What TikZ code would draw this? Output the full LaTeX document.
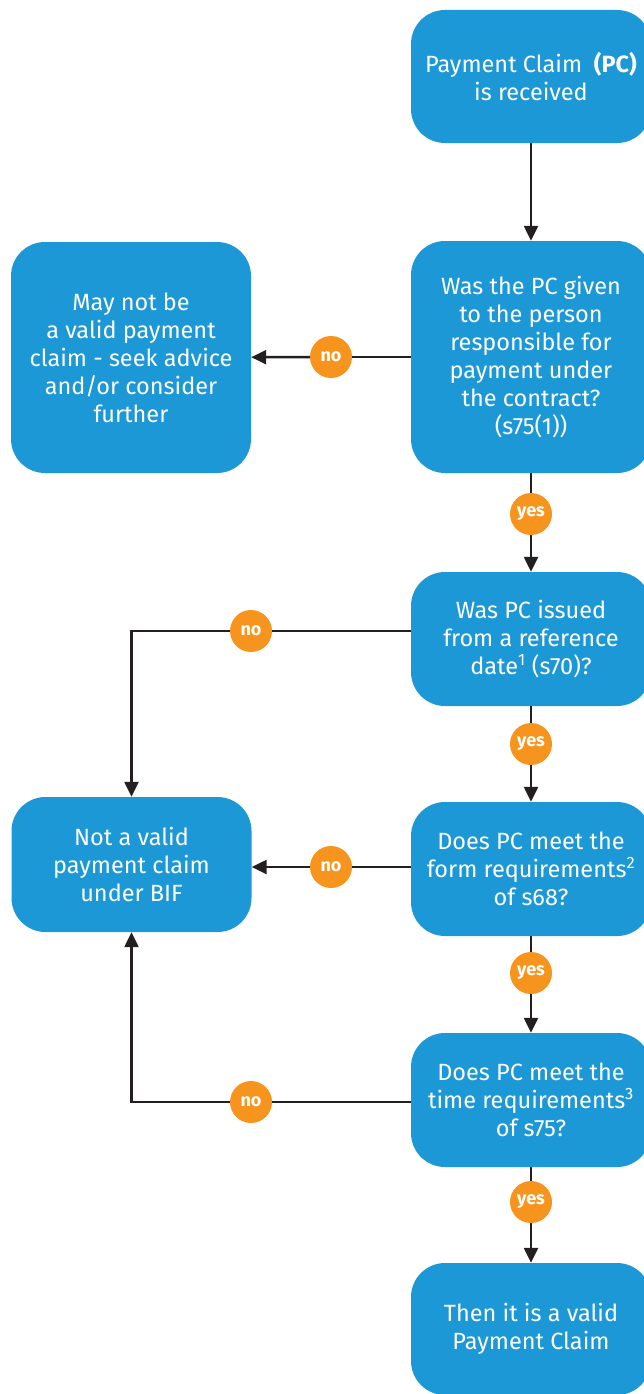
\documentclass[tikz,border=0pt]{standalone}
\usepackage{fontspec}
\setmainfont{Fira Sans}
\usepackage{tikz}
\usetikzlibrary{arrows.meta}

\definecolor{qblue}{HTML}{1B98D5}
\definecolor{qorange}{HTML}{F7941D}
\definecolor{qline}{HTML}{231F20}

\tikzset{
  step box/.style={fill=qblue, text=white, rounded corners=34pt, minimum width=240pt,
    align=center, inner sep=0pt, font=\fontsize{23.5}{28}\selectfont},
  tag/.style={circle, fill=qorange, text=white, minimum size=42pt, inner sep=0pt,
    font=\fontsize{18}{18}\selectfont\bfseries},
  flow/.style={draw=qline, line width=2.4pt},
  flowarrow/.style={flow, -{Triangle[length=15pt,width=14pt]}}
}

\begin{document}
\begin{tikzpicture}[x=1pt,y=-1pt]
\useasboundingbox (0,0) rectangle (643,1394);
\node[step box, minimum height=133pt] (pc) at (531,76.5) {Payment Claim\enspace\textbf{(PC)}\\is received};
\node[step box, minimum height=232pt] (given) at (531,357) {Was the PC given\\to the person\\responsible for\\payment under\\the contract?\\(s75(1))};
\node[step box, minimum height=231pt] (advice) at (131,357.5) {May not be\\a valid payment\\claim - seek advice\\and/or consider\\further};
\node[step box, minimum height=134pt] (refdate) at (531,639) {Was PC issued\\from a reference\\date\textsuperscript{1} (s70)?};
\node[step box, minimum height=134pt] (form) at (531,869) {Does PC meet the\\form requirements\textsuperscript{2}\\of s68?};
\node[step box, minimum height=135pt] (invalid) at (131.5,864.5) {Not a valid\\payment claim\\under BIF};
\node[step box, minimum height=134pt] (time) at (531,1100) {Does PC meet the\\time requirements\textsuperscript{3}\\of s75?};
\node[step box, minimum height=132pt] (valid) at (531,1329) {Then it is a valid\\Payment Claim};

\node[tag] (yes1) at (531,514) {yes};
\node[tag] (yes2) at (531,744) {yes};
\node[tag] (yes3) at (531,973) {yes};
\node[tag] (yes4) at (531,1202) {yes};
\node[tag] (no1) at (331,357) {no};
\node[tag] (no2) at (251,631) {no};
\node[tag] (no3) at (331,867) {no};
\node[tag] (no4) at (251,1102) {no};

% down the right column
\draw[flowarrow] (pc) -- (given);
\draw[flow] (given) -- (yes1);
\draw[flowarrow] (yes1) -- (refdate);
\draw[flow] (refdate) -- (yes2);
\draw[flowarrow] (yes2) -- (form);
\draw[flow] (form) -- (yes3);
\draw[flowarrow] (yes3) -- (time);
\draw[flow] (time) -- (yes4);
\draw[flowarrow] (yes4) -- (valid);

% the no branches
\draw[flow] (given) -- (no1);
\draw[flowarrow] (no1) -- (advice);
\draw[flow] ([yshift=8pt]refdate.west) -- (no2);
\draw[flowarrow] (no2) -| (invalid.north);
\draw[flow] ([yshift=2pt]form.west) -- (no3);
\draw[flowarrow] (no3) -- (no3 -| invalid.east);
\draw[flow] ([yshift=-2pt]time.west) -- (no4);
\draw[flowarrow] (no4) -| (invalid.south);
\end{tikzpicture}
\end{document}
